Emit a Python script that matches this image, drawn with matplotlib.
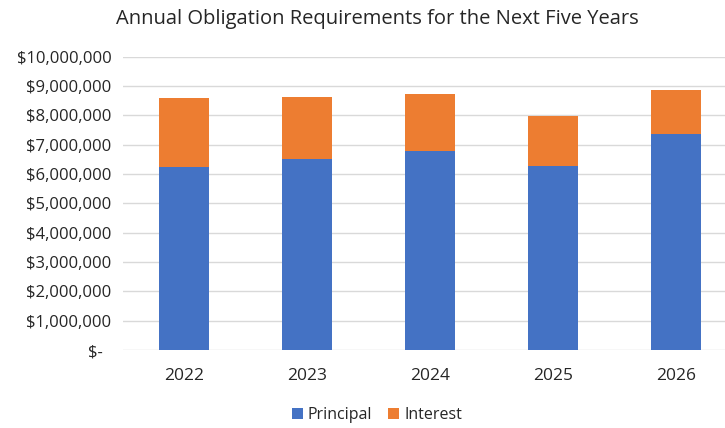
import matplotlib
matplotlib.use('Agg')
from matplotlib import pyplot as plt
from matplotlib.ticker import FuncFormatter

years = ['2022', '2023', '2024', '2025', '2026']
principal = [6240000, 6500000, 6790000, 6270000, 7380000]
interest = [2360000, 2140000, 1930000, 1710000, 1500000]

plt.rcParams['font.family'] = ['Open Sans', 'DejaVu Sans']

fig = plt.figure(figsize=(7.25, 4.28), dpi=100)
ax = fig.add_axes([122.5 / 725, 78 / 428, 615 / 725, 293.3 / 428])

x = range(len(years))
ax.bar(x, principal, width=0.4, color='#4472C4', label='Principal', zorder=3)
ax.bar(x, interest, width=0.4, bottom=principal, color='#ED7D31', label='Interest', zorder=3)

ax.set_xlim(-0.5, 4.5)
ax.set_ylim(0, 10000000)
ax.set_yticks(range(0, 10000001, 1000000))
ax.set_xticks(list(x))
ax.set_xticklabels(years)


def dollars(v, pos):
    if v == 0:
        return '$-  '
    return '${:,.0f}'.format(v)


ax.yaxis.set_major_formatter(FuncFormatter(dollars))
ax.grid(axis='y', color='#D9D9D9', linewidth=1, zorder=0)
for s in ax.spines.values():
    s.set_visible(False)
ax.tick_params(axis='both', length=0, colors='#262626')
ax.tick_params(axis='y', labelsize=12, pad=8)
ax.tick_params(axis='x', labelsize=12.5, pad=13)

fig.text(0.52, 0.955, 'Annual Obligation Requirements for the Next Five Years',
         ha='center', va='center', fontsize=14.5, color='#262626')

fig.legend(loc='center', bbox_to_anchor=(0.52, 0.03), ncol=2, frameon=False,
           fontsize=11.5, handlelength=0.7, handleheight=0.7, columnspacing=1.0,
           handletextpad=0.3, labelcolor='#262626')

fig.savefig('out.png', dpi=100)
